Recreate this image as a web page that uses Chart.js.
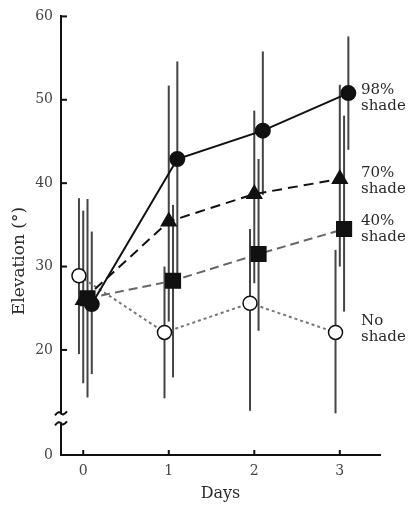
<!DOCTYPE html>
<html>
<head>
<meta charset="utf-8">
<script src="https://cdn.jsdelivr.net/npm/chart.js@4"></script>
<style>
  html, body { margin: 0; padding: 0; background: #fff; }
</style>
</head>
<body>
<canvas id="elevChart" width="410" height="507"></canvas>
<script>
// data (elevation in degrees)
var days = [0, 1, 2, 3];
var xTicks = [0, 1, 2, 3];
var yTicks = [20, 30, 40, 50, 60];
var yBreakLabel = '0';
var seriesNames = ['98% shade', '70% shade', '40% shade', 'No shade'];

var shade98 = [25.5, 42.9, 46.3, 50.8];
var shade70 = [26.0, 35.4, 38.7, 40.5];
var shade40 = [26.2, 28.3, 31.5, 34.5];
var noShade = [28.9, 22.1, 25.6, 22.1];

// error bar ends (upper / lower)
var shade98Hi = [34.2, 54.6, 55.8, 57.6];
var shade98Lo = [17.1, 27.4, 38.6, 44.0];
var shade70Hi = [36.7, 51.7, 48.7, 51.8];
var shade70Lo = [16.0, 23.4, 28.0, 30.0];
var shade40Hi = [38.1, 37.4, 42.9, 48.1];
var shade40Lo = [14.3, 16.7, 22.3, 24.6];
var noShadeHi = [38.2, 30.0, 34.5, 32.0];
var noShadeLo = [19.5, 14.2, 12.7, 12.4];

var labelTop = ['98%', '70%', '40%', 'No'];
var labelBottom = ['shade', 'shade', 'shade', 'shade'];

// small horizontal stagger so the points don't sit on each other
var offsets = [0.1, 0, 0.05, -0.05];
var yMin = 7.4, yMax = 60;
var breakHi = 12.4, breakLo = 11.2;

var serif = "'DejaVu Serif', 'Liberation Serif', serif";

function pts(vals, off) {
  return vals.map(function (v, i) { return { x: days[i] + off, y: v }; });
}

var errHi = [shade98Hi, shade70Hi, shade40Hi, noShadeHi];
var errLo = [shade98Lo, shade70Lo, shade40Lo, noShadeLo];

var errorBars = {
  id: 'errorBars',
  beforeDatasetsDraw: function (chart) {
    var ctx = chart.ctx, xs = chart.scales.x, ys = chart.scales.y;
    ctx.save();
    ctx.strokeStyle = '#444';
    ctx.lineWidth = 2;
    for (var i = 0; i < errHi.length; i++) {
      for (var j = 0; j < days.length; j++) {
        var px = xs.getPixelForValue(days[j] + offsets[i]);
        ctx.beginPath();
        ctx.moveTo(px, ys.getPixelForValue(errHi[i][j]));
        ctx.lineTo(px, ys.getPixelForValue(errLo[i][j]));
        ctx.stroke();
      }
    }
    ctx.restore();
  }
};

var decorations = {
  id: 'decorations',
  afterDraw: function (chart) {
    var ctx = chart.ctx, xs = chart.scales.x, ys = chart.scales.y;
    var area = chart.chartArea;
    ctx.save();
    ctx.strokeStyle = '#111';
    ctx.lineWidth = 2;
    // inward tick marks
    yTicks.forEach(function (v) {
      var py = ys.getPixelForValue(v);
      ctx.beginPath();
      ctx.moveTo(area.left, py);
      ctx.lineTo(area.left + 6, py);
      ctx.stroke();
    });
    xTicks.forEach(function (v) {
      var px = xs.getPixelForValue(v);
      ctx.beginPath();
      ctx.moveTo(px, area.bottom);
      ctx.lineTo(px, area.bottom - 5);
      ctx.stroke();
    });
    // axis break
    var yA = ys.getPixelForValue(breakHi), yB = ys.getPixelForValue(breakLo);
    ctx.fillStyle = '#fff';
    ctx.fillRect(area.left - 4, yA + 1, 8, yB - yA - 2);
    [yA, yB].forEach(function (y) {
      ctx.beginPath();
      ctx.moveTo(area.left - 6, y + 2);
      ctx.quadraticCurveTo(area.left - 2, y - 3, area.left, y);
      ctx.quadraticCurveTo(area.left + 2, y + 3, area.left + 6, y - 2);
      ctx.stroke();
    });
    // y axis title
    ctx.fillStyle = '#2a2a2a';
    ctx.font = '17px ' + serif;
    ctx.textAlign = 'center';
    ctx.textBaseline = 'middle';
    ctx.translate(20, 261);
    ctx.rotate(-Math.PI / 2);
    ctx.fillText('Elevation (\u00b0)', 0, 0);
    ctx.restore();

    // series labels beside the last points
    var dy = [-3, -6, -8, -11];
    ctx.save();
    ctx.fillStyle = '#2a2a2a';
    ctx.font = '15px ' + serif;
    ctx.textAlign = 'left';
    ctx.textBaseline = 'middle';
    chart.data.datasets.forEach(function (ds, i) {
      var last = chart.getDatasetMeta(i).data[days.length - 1];
      ctx.fillText(labelTop[i], 361, last.y + dy[i]);
      ctx.fillText(labelBottom[i], 361, last.y + dy[i] + 16);
    });
    ctx.restore();
  }
};

new Chart(document.getElementById('elevChart'), {
  type: 'line',
  data: {
    datasets: [
      {
        label: seriesNames[0],
        data: pts(shade98, offsets[0]),
        borderColor: '#111', borderWidth: 2,
        pointStyle: 'circle', pointRadius: 7,
        pointBackgroundColor: '#111', pointBorderColor: '#111'
      },
      {
        label: seriesNames[1],
        data: pts(shade70, offsets[1]),
        borderColor: '#111', borderWidth: 2, borderDash: [10, 6],
        pointStyle: 'triangle', pointRadius: 8,
        pointBackgroundColor: '#111', pointBorderColor: '#111'
      },
      {
        label: seriesNames[2],
        data: pts(shade40, offsets[2]),
        borderColor: '#666', borderWidth: 2, borderDash: [9, 5],
        pointStyle: 'rect', pointRadius: 10,
        pointBackgroundColor: '#111', pointBorderColor: '#111'
      },
      {
        label: seriesNames[3],
        data: pts(noShade, offsets[3]),
        borderColor: '#777', borderWidth: 2, borderDash: [3, 3],
        pointStyle: 'circle', pointRadius: 7,
        pointBackgroundColor: '#fff', pointBorderColor: '#111', pointBorderWidth: 1.5
      }
    ]
  },
  options: {
    responsive: false,
    animation: false,
    layout: { padding: { top: 13, right: 30, left: 0, bottom: 0 } },
    plugins: { legend: { display: false }, tooltip: { enabled: false } },
    scales: {
      x: {
        type: 'linear',
        min: -0.26, max: 3.47,
        afterBuildTicks: function (s) { s.ticks = xTicks.map(function (v) { return { value: v }; }); },
        afterFit: function (s) { s.height = 52; },
        grid: { drawOnChartArea: false, drawTicks: false },
        border: { display: true, color: '#111', width: 2 },
        ticks: { color: '#444', font: { family: serif, size: 14 }, padding: 8 },
        title: { display: true, text: 'Days', color: '#2a2a2a', font: { family: serif, size: 16 }, padding: { top: 2 } }
      },
      y: {
        min: yMin, max: yMax,
        afterBuildTicks: function (s) {
          s.ticks = [yMin].concat(yTicks).map(function (v) { return { value: v }; });
        },
        afterFit: function (s) { s.width = 61; },
        grid: { drawOnChartArea: false, drawTicks: false },
        border: { display: true, color: '#111', width: 2 },
        ticks: {
          color: '#444', font: { family: serif, size: 14 }, padding: 8,
          callback: function (v) { return v < 10 ? yBreakLabel : v; }
        }
      }
    }
  },
  plugins: [errorBars, decorations]
});
</script>
</body>
</html>
